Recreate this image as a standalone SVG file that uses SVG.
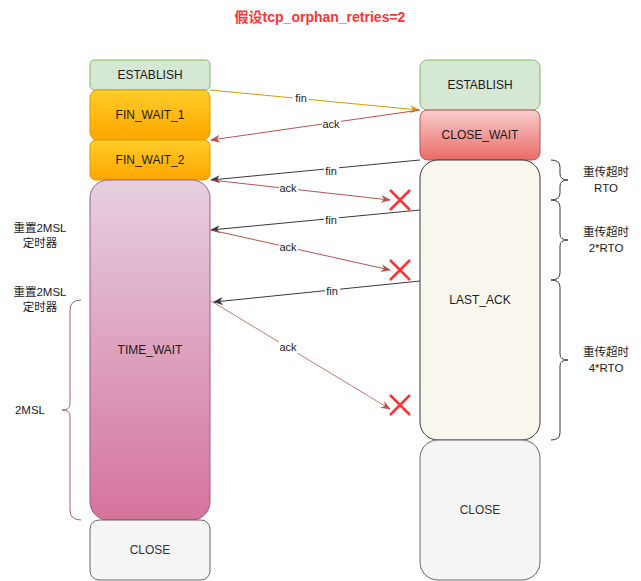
<svg xmlns="http://www.w3.org/2000/svg" width="641" height="581" viewBox="0 0 641 581">
<defs>
<linearGradient id="gOrange" x1="0" y1="0" x2="0" y2="1"><stop offset="0" stop-color="#ffcd28"/><stop offset="1" stop-color="#ffa500"/></linearGradient>
<linearGradient id="gRed" x1="0" y1="0" x2="0" y2="1"><stop offset="0" stop-color="#f8cecc"/><stop offset="1" stop-color="#ea6b66"/></linearGradient>
<linearGradient id="gPink" x1="0" y1="0" x2="0" y2="1"><stop offset="0" stop-color="#e6d0de"/><stop offset="1" stop-color="#d5739d"/></linearGradient>
<marker id="aOr" viewBox="0 0 10 10" refX="9" refY="5" markerWidth="10" markerHeight="10" markerUnits="userSpaceOnUse" orient="auto"><path d="M0,1 L10,5 L0,9 L3,5 Z" fill="#d79b00"/></marker>
<marker id="aRd" viewBox="0 0 10 10" refX="9" refY="5" markerWidth="10" markerHeight="10" markerUnits="userSpaceOnUse" orient="auto"><path d="M0,1 L10,5 L0,9 L3,5 Z" fill="#b85450"/></marker>
<marker id="aDk" viewBox="0 0 10 10" refX="9" refY="5" markerWidth="10" markerHeight="10" markerUnits="userSpaceOnUse" orient="auto"><path d="M0,1 L10,5 L0,9 L3,5 Z" fill="#36393d"/></marker>
</defs>
<style>
text{font-family:"Liberation Sans","Noto Sans CJK SC",Arial,sans-serif;fill:#1a1a1a;}
.n{font-size:12px;text-anchor:middle;dominant-baseline:central;}
.lab{font-size:11px;text-anchor:middle;dominant-baseline:central;}
.lb{fill:#ffffff;}
.side{font-size:11.5px;text-anchor:middle;}
.e{fill:none;stroke-width:1;}
.x{stroke:#ff3333;stroke-width:2.5;fill:none;}
.br{fill:none;stroke-width:1;}
</style>
<rect width="641" height="581" fill="#ffffff"/>
<text x="320" y="22" style="font-size:14px;font-weight:bold;fill:#ff3333;text-anchor:middle;">假设tcp_orphan_retries=2</text>

<g id="l-establish"><rect x="90" y="60" width="120" height="30" rx="4.5" fill="#d5e8d4" stroke="#82b366"/><text class="n" x="150" y="75">ESTABLISH</text></g>
<g id="l-fin-wait-1"><rect x="90" y="90" width="120" height="50" rx="7.5" fill="url(#gOrange)" stroke="#d79b00"/><text class="n" x="150" y="115">FIN_WAIT_1</text></g>
<g id="l-fin-wait-2"><rect x="90" y="140" width="120" height="40" rx="6" fill="url(#gOrange)" stroke="#d79b00"/><text class="n" x="150" y="160">FIN_WAIT_2</text></g>
<g id="l-time-wait"><rect x="90" y="180" width="120" height="340" rx="18" fill="url(#gPink)" stroke="#996185"/><text class="n" x="150" y="350">TIME_WAIT</text></g>
<g id="l-close"><rect x="90" y="520" width="120" height="60" rx="9" fill="#f5f5f5" stroke="#666666"/><text class="n" x="150" y="550" style="fill:#333333">CLOSE</text></g>

<g id="r-establish"><rect x="420" y="60" width="120" height="50" rx="7.5" fill="#d5e8d4" stroke="#82b366"/><text class="n" x="480" y="85">ESTABLISH</text></g>
<g id="r-close-wait"><rect x="420" y="110" width="120" height="50" rx="7.5" fill="url(#gRed)" stroke="#b85450"/><text class="n" x="480" y="135">CLOSE_WAIT</text></g>
<g id="r-last-ack"><rect x="420" y="160" width="120" height="280" rx="18" fill="#f9f7ed" stroke="#36393d"/><text class="n" x="480" y="300">LAST_ACK</text></g>
<g id="r-close"><rect x="420" y="440" width="120" height="140" rx="18" fill="#f5f5f5" stroke="#666666"/><text class="n" x="480" y="510" style="fill:#333333">CLOSE</text></g>

<g id="connectors">
<line class="e" x1="210" y1="90" x2="419" y2="110" stroke="#d79b00" marker-end="url(#aOr)"/>
<rect class="lb" x="293" y="92" width="16" height="12"/><text class="lab" x="301" y="98">fin</text>
<line class="e" x1="420" y1="110" x2="211" y2="140" stroke="#b85450" marker-end="url(#aRd)"/>
<rect class="lb" x="322" y="118" width="19" height="12"/><text class="lab" x="331" y="124">ack</text>
<line class="e" x1="420" y1="160" x2="211" y2="180" stroke="#36393d" marker-end="url(#aDk)"/>
<rect class="lb" x="324" y="165" width="15" height="12"/><text class="lab" x="331" y="171">fin</text>
<line class="e" x1="211" y1="180" x2="390" y2="200" stroke="#b85450" marker-end="url(#aRd)"/>
<rect class="lb" x="279" y="182" width="19" height="12"/><text class="lab" x="288" y="188">ack</text>
<line class="e" x1="420" y1="210" x2="211" y2="230" stroke="#36393d" marker-end="url(#aDk)"/>
<rect class="lb" x="324" y="214" width="15" height="12"/><text class="lab" x="331" y="220">fin</text>
<line class="e" x1="211" y1="230" x2="390" y2="270" stroke="#b85450" marker-end="url(#aRd)"/>
<rect class="lb" x="279" y="241" width="19" height="12"/><text class="lab" x="288" y="247">ack</text>
<line class="e" x1="420" y1="281" x2="214" y2="302" stroke="#36393d" marker-end="url(#aDk)"/>
<rect class="lb" x="325" y="285" width="15" height="12"/><text class="lab" x="332" y="291">fin</text>
<line class="e" x1="211" y1="301" x2="390" y2="409" stroke="#b85450" stroke-opacity="0.8" marker-end="url(#aRd)"/>
<rect class="lb" x="279" y="341" width="19" height="12"/><text class="lab" x="288" y="347">ack</text>
</g>

<g id="drops">
<path class="x" d="M390,190 L410,210 M410,190 L390,210"/>
<path class="x" d="M390,260 L410,280 M410,260 L390,280"/>
<path class="x" d="M390,395 L410,415 M410,395 L390,415"/>
</g>

<g id="rto-braces" stroke="#36393d">
<path class="br" d="M551,160 Q560,160 560,167 L560,174 Q560,180 568,180 Q560,180 560,186 L560,193 Q560,200 551,200"/>
<path class="br" d="M551,200 Q560,200 560,207 L560,234 Q560,240 568,240 Q560,240 560,246 L560,273 Q560,280 551,280"/>
<path class="br" d="M551,280 Q560,280 560,287 L560,354 Q560,360 568,360 Q560,360 560,366 L560,433 Q560,440 551,440"/>
</g>
<g id="rto-labels">
<text class="side" x="606" y="176">重传超时</text><text class="side" x="606" y="192">RTO</text>
<text class="side" x="606" y="236">重传超时</text><text class="side" x="606" y="252">2*RTO</text>
<text class="side" x="606" y="356">重传超时</text><text class="side" x="606" y="372">4*RTO</text>
</g>

<g id="msl-brace">
<path class="br" stroke="#996185" d="M81,300 Q70,300 70,310 L70,404 Q70,410 62,410 Q70,410 70,416 L70,510 Q70,520 81,520"/>
<text class="side" x="30" y="414">2MSL</text>
</g>
<g id="reset-labels">
<text class="side" x="40" y="232">重置2MSL</text><text class="side" x="40" y="247">定时器</text>
<text class="side" x="40" y="296">重置2MSL</text><text class="side" x="40" y="311">定时器</text>
</g>
</svg>
